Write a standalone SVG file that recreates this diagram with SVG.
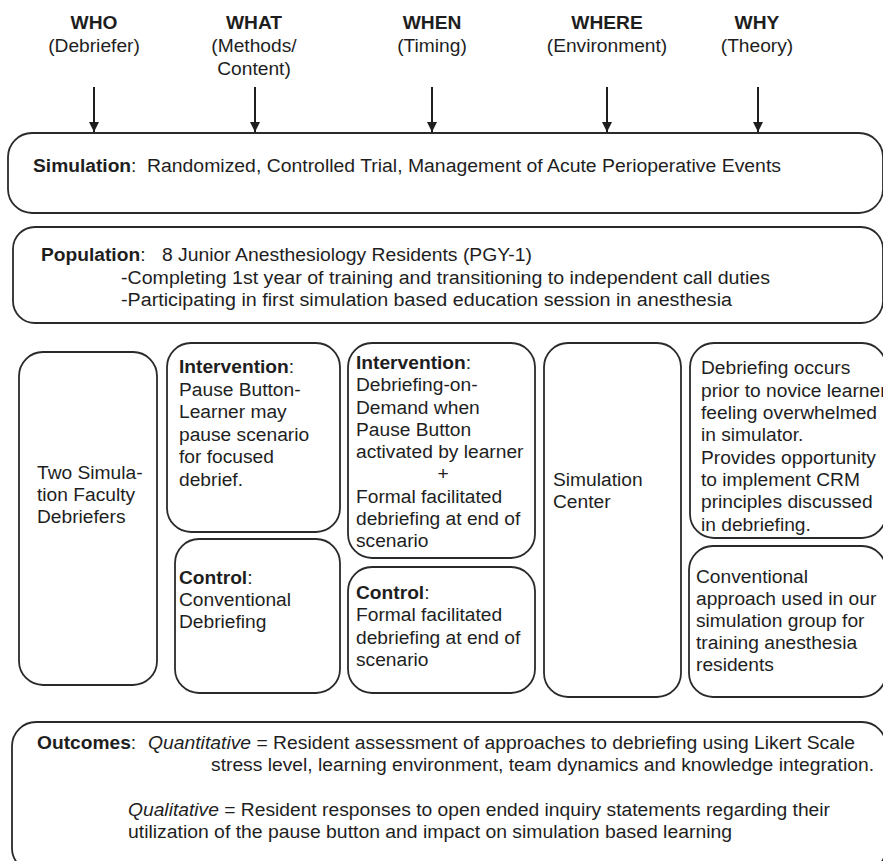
<svg xmlns="http://www.w3.org/2000/svg" width="883" height="861" viewBox="0 0 883 861">
<style>
text{font-family:"Liberation Sans",Arial,sans-serif;font-size:19.2px;fill:#1e1e1e}
.b{font-weight:bold}
.i{font-style:italic}
.c{text-anchor:middle}
.box{fill:#fff;stroke:#2a2a2a;stroke-width:1.8}
.arr{stroke:#1e1e1e;stroke-width:2;fill:none}
</style>
<defs>
<marker id="ah" viewBox="0 0 10 10" refX="10" refY="5" markerWidth="5" markerHeight="5" orient="auto" markerUnits="strokeWidth">
<path d="M0,0 L10,5 L0,10 Z" fill="#1e1e1e"/>
</marker>
</defs>
<rect width="883" height="861" fill="#fff"/>
<g id="headers">
<text class="b c" x="94" y="29">WHO</text>
<text class="c" x="94" y="52">(Debriefer)</text>
<text class="b c" x="254" y="29">WHAT</text>
<text class="c" x="254" y="52">(Methods/</text>
<text class="c" x="254" y="75">Content)</text>
<text class="b c" x="432" y="29">WHEN</text>
<text class="c" x="432" y="52">(Timing)</text>
<text class="b c" x="607" y="29">WHERE</text>
<text class="c" x="607" y="52">(Environment)</text>
<text class="b c" x="757" y="29">WHY</text>
<text class="c" x="757" y="52">(Theory)</text>
</g>
<g id="connectors">
<line class="arr" x1="94" y1="87" x2="94" y2="132" marker-end="url(#ah)"/>
<line class="arr" x1="255" y1="87" x2="255" y2="132" marker-end="url(#ah)"/>
<line class="arr" x1="432" y1="87" x2="432" y2="132" marker-end="url(#ah)"/>
<line class="arr" x1="607" y1="87" x2="607" y2="132" marker-end="url(#ah)"/>
<line class="arr" x1="758" y1="87" x2="758" y2="132" marker-end="url(#ah)"/>
</g>
<g id="simulation">
<rect class="box" x="8" y="133" width="875" height="80" rx="24"/>
<text x="33" y="172"><tspan class="b">Simulation</tspan>:</text>
<text x="147" y="172" textLength="634" lengthAdjust="spacingAndGlyphs">Randomized, Controlled Trial, Management of Acute Perioperative Events</text>
</g>
<g id="population">
<rect class="box" x="13" y="227" width="870" height="96" rx="22"/>
<text x="41" y="261"><tspan class="b">Population</tspan>:</text>
<text x="162" y="261" textLength="370" lengthAdjust="spacingAndGlyphs">8 Junior Anesthesiology Residents (PGY-1)</text>
<text x="121" y="284" textLength="649" lengthAdjust="spacingAndGlyphs">-Completing 1st year of training and transitioning to independent call duties</text>
<text x="121" y="306" textLength="611" lengthAdjust="spacingAndGlyphs">-Participating in first simulation based education session in anesthesia</text>
</g>
<g id="who">
<rect class="box" x="19" y="352" width="138" height="333" rx="24"/>
<text x="37" y="479">Two Simula-</text>
<text x="37" y="501">tion Faculty</text>
<text x="37" y="523">Debriefers</text>
</g>
<g id="what-intervention">
<rect class="box" x="167" y="343" width="173" height="189" rx="24"/>
<text x="179" y="373"><tspan class="b">Intervention</tspan>:</text>
<text x="179" y="395.5">Pause Button-</text>
<text x="179" y="418">Learner may</text>
<text x="179" y="440.5">pause scenario</text>
<text x="179" y="463">for focused</text>
<text x="179" y="485.5">debrief.</text>
</g>
<g id="what-control">
<rect class="box" x="175" y="539" width="165" height="154" rx="24"/>
<text x="179" y="584"><tspan class="b">Control</tspan>:</text>
<text x="179" y="606">Conventional</text>
<text x="179" y="628">Debriefing</text>
</g>
<g id="when-intervention">
<rect class="box" x="348" y="343" width="187" height="215" rx="24"/>
<text x="356" y="369"><tspan class="b">Intervention</tspan>:</text>
<text x="356" y="391">Debriefing-on-</text>
<text x="356" y="413.5">Demand when</text>
<text x="356" y="436">Pause Button</text>
<text x="356" y="458">activated by learner</text>
<text class="c" x="443" y="480">+</text>
<text x="356" y="502.5">Formal facilitated</text>
<text x="356" y="525">debriefing at end of</text>
<text x="356" y="547">scenario</text>
</g>
<g id="when-control">
<rect class="box" x="348" y="567" width="187" height="126" rx="24"/>
<text x="356" y="599"><tspan class="b">Control</tspan>:</text>
<text x="356" y="621">Formal facilitated</text>
<text x="356" y="644">debriefing at end of</text>
<text x="356" y="666">scenario</text>
</g>
<g id="where">
<rect class="box" x="544" y="343" width="137" height="354" rx="24"/>
<text x="553" y="486">Simulation</text>
<text x="553" y="508">Center</text>
</g>
<g id="why-intervention">
<rect class="box" x="690" y="343" width="196" height="195" rx="24"/>
<text x="701" y="374">Debriefing occurs</text>
<text x="701" y="396.5">prior to novice learner</text>
<text x="701" y="419">feeling overwhelmed</text>
<text x="701" y="441">in simulator.</text>
<text x="701" y="463.5">Provides opportunity</text>
<text x="701" y="486">to implement CRM</text>
<text x="701" y="508">principles discussed</text>
<text x="701" y="530.5">in debriefing.</text>
</g>
<g id="why-control">
<rect class="box" x="689" y="546" width="197" height="151" rx="24"/>
<text x="696" y="583">Conventional</text>
<text x="696" y="605">approach used in our</text>
<text x="696" y="627">simulation group for</text>
<text x="696" y="649">training anesthesia</text>
<text x="696" y="671">residents</text>
</g>
<g id="outcomes">
<rect class="box" x="12" y="722" width="874" height="150" rx="24"/>
<text x="37" y="749"><tspan class="b">Outcomes</tspan>:</text>
<text x="148" y="749" textLength="707" lengthAdjust="spacingAndGlyphs"><tspan class="i">Quantitative</tspan> = Resident assessment of approaches to debriefing using Likert Scale</text>
<text x="211" y="771" textLength="663" lengthAdjust="spacingAndGlyphs">stress level, learning environment, team dynamics and knowledge integration.</text>
<text x="128" y="816" textLength="702" lengthAdjust="spacingAndGlyphs"><tspan class="i">Qualitative</tspan> = Resident responses to open ended inquiry statements regarding their</text>
<text x="128" y="838" textLength="604" lengthAdjust="spacingAndGlyphs">utilization of the pause button and impact on simulation based learning</text>
</g>
</svg>
